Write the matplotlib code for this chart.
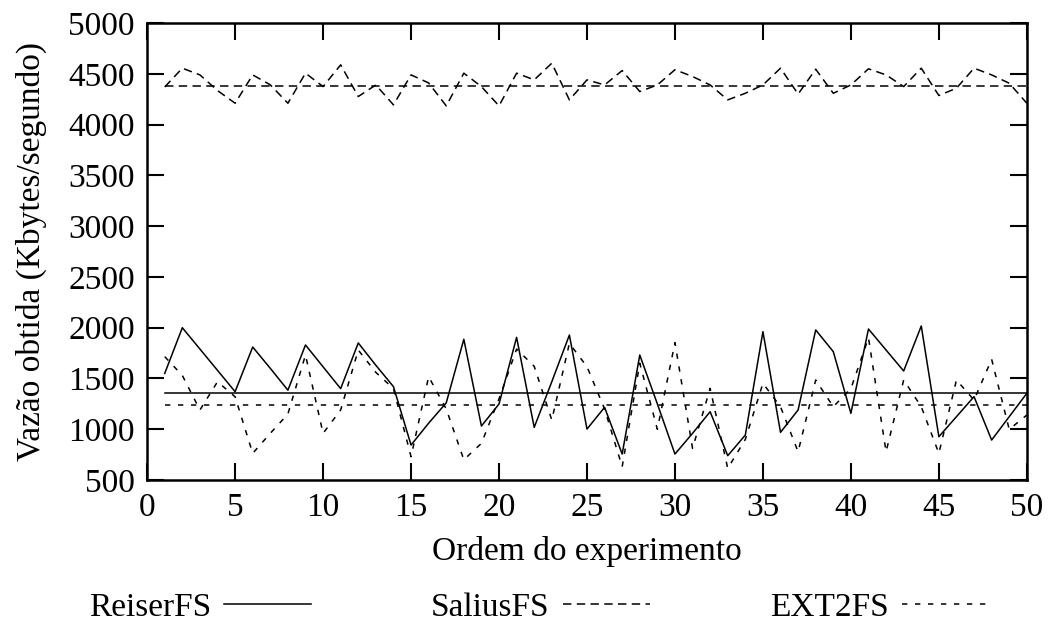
import numpy as np
import matplotlib.pyplot as plt

plt.rcParams['font.family'] = ['Liberation Serif', 'DejaVu Serif']

ordem = list(range(1, 51))

reiserfs = [1550, 2000, 1790, 1580, 1370, 1810, 1600, 1385, 1830, 1615,
            1400, 1850, 1630, 1420, 845, 1060, 1260, 1886, 1032, 1249,
            1905, 1019, 1468, 1928, 1002, 1216, 756, 1731, 1250, 756,
            960, 1173, 740, 943, 1961, 970, 1190, 1978, 1764, 1157,
            1987, 1780, 1574, 2017, 927, 1124, 1321, 894, 1124, 1354]

saliusfs = [4370, 4555, 4489, 4335, 4210, 4489, 4391, 4210, 4506, 4374,
            4588, 4276, 4390, 4194, 4489, 4410, 4184, 4506, 4374, 4184,
            4506, 4440, 4604, 4243, 4440, 4390, 4532, 4325, 4390, 4540,
            4473, 4390, 4243, 4308, 4390, 4555, 4300, 4545, 4308, 4390,
            4549, 4489, 4374, 4555, 4286, 4358, 4555, 4489, 4407, 4210]

ext2fs = [1715, 1530, 1190, 1468, 1320, 763, 960, 1150, 1731, 960,
          1190, 1780, 1560, 1400, 730, 1518, 1200, 700, 861, 1300,
          1790, 1620, 1091, 1846, 1616, 1200, 631, 1650, 1000, 1853,
          812, 1403, 615, 900, 1452, 1222, 779, 1485, 1222, 1400,
          1900, 779, 1485, 1222, 763, 1485, 1288, 1689, 999, 1140]

# horizontal reference levels (averages as drawn on the chart)
media_reiser = 1360
media_salius = 4380
media_ext2 = 1242

fig = plt.figure(figsize=(10.51, 6.30), dpi=100)
ax = fig.add_axes([0.140, 0.238, 0.837, 0.7255])

dash_salius = (0, (5.5, 3.5))
dash_ext2 = (0, (3.5, 5))
lw = 1.1

ax.plot(ordem, reiserfs, color='black', lw=lw, label='ReiserFS')
ax.plot([ordem[0], ordem[-1]], [media_reiser, media_reiser], color='black', lw=lw)
ax.plot(ordem, saliusfs, color='black', lw=lw, linestyle=dash_salius, label='SaliusFS')
ax.plot([ordem[0], ordem[-1]], [media_salius, media_salius], color='black', lw=lw,
        linestyle=dash_salius)
ax.plot(ordem, ext2fs, color='black', lw=lw, linestyle=dash_ext2, label='EXT2FS')
ax.plot([ordem[0], ordem[-1]], [media_ext2, media_ext2], color='black', lw=lw,
        linestyle=dash_ext2)

ax.set_xlim(0, 50)
ax.set_ylim(500, 5000)
ax.set_xticks(range(0, 51, 5))
ax.set_yticks(range(500, 5001, 500))
ax.tick_params(direction='in', length=12, width=1.5, top=True, right=True,
               labelsize=24, pad=9)
for s in ax.spines.values():
    s.set_linewidth(1.8)

ax.set_xlabel('Ordem do experimento', fontsize=24, labelpad=9)
ax.set_ylabel('Vazão obtida (Kbytes/segundo)', fontsize=24, labelpad=15)

ax.legend(loc='upper center', bbox_to_anchor=(0.445, -0.18), ncol=3, frameon=False,
          markerfirst=False, fontsize=24, handlelength=2.6, columnspacing=3.6,
          handletextpad=0.4)

fig.savefig('out.png', dpi=100)
